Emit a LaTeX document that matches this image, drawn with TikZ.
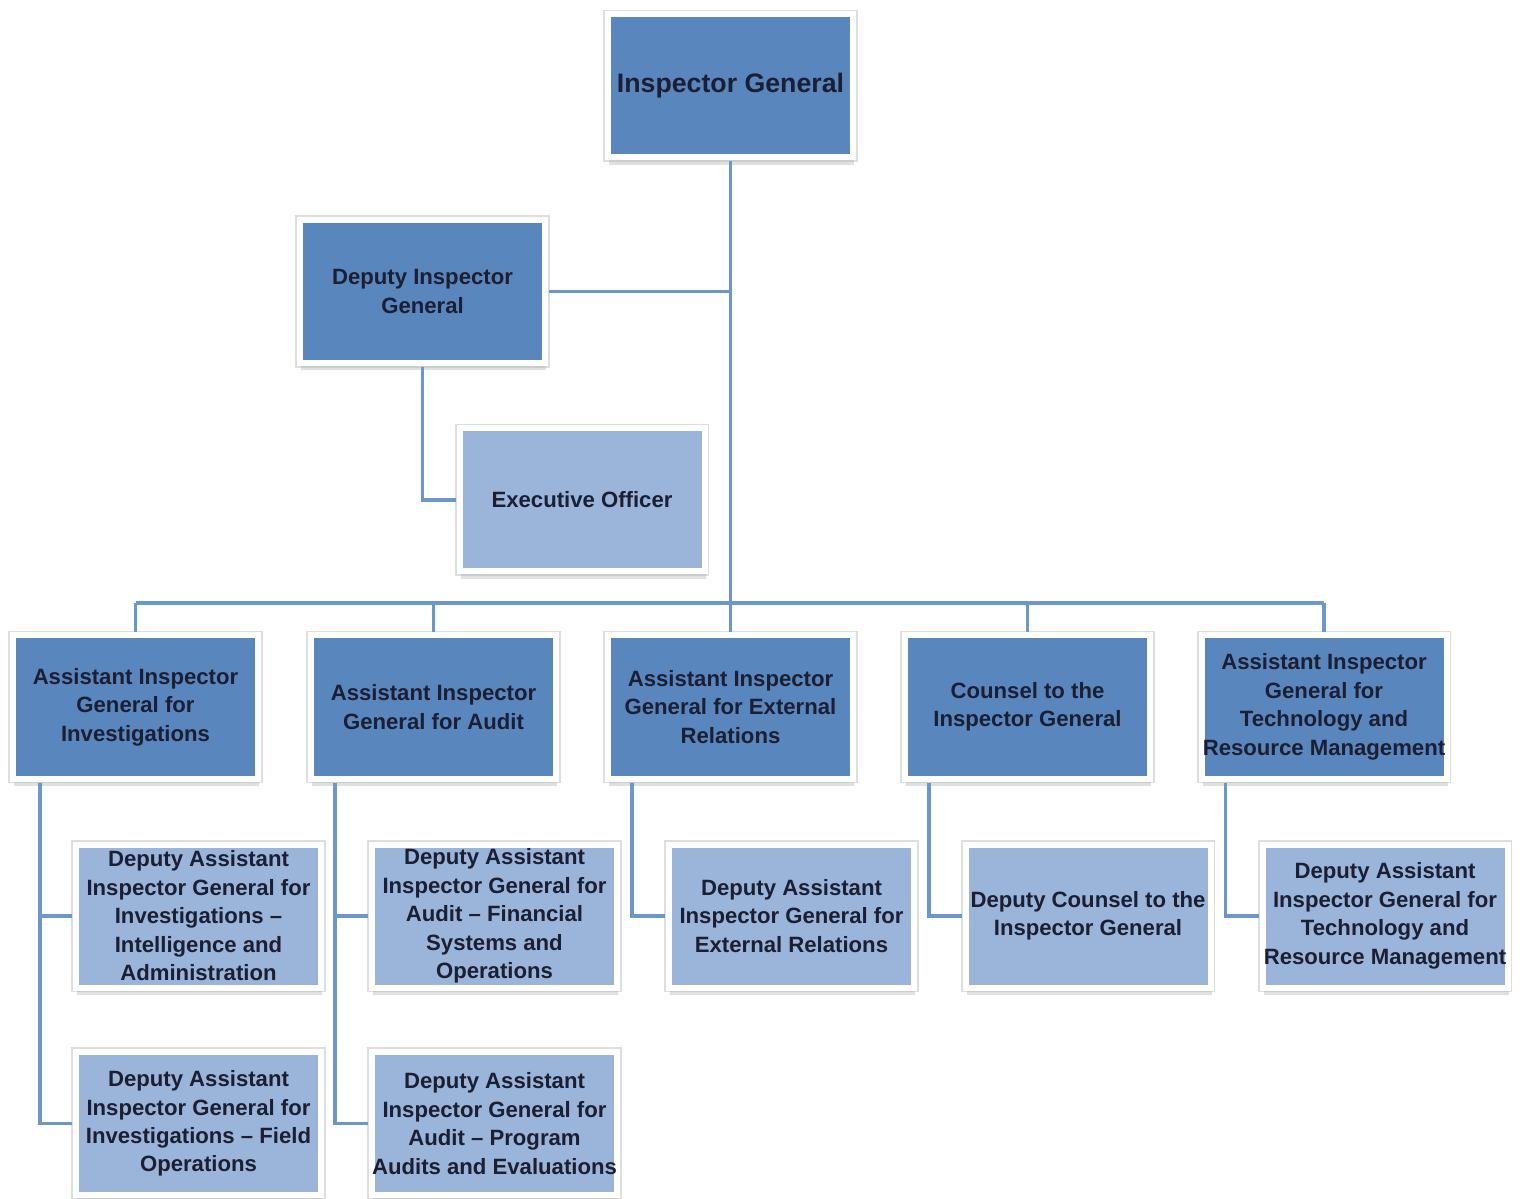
\documentclass[tikz,border=0pt]{standalone}
\usepackage{fontspec}
\setmainfont{Liberation Sans}
\usetikzlibrary{shadows}
\definecolor{bossblue}{HTML}{5A86BE}
\definecolor{staffblue}{HTML}{9BB5DA}
\definecolor{linkblue}{HTML}{6C97CB}
\definecolor{inkblue}{HTML}{1A1F33}
\tikzset{
    post/.style={fill=bossblue, draw=white, line width=0.06cm,
        preaction={draw=black!13, line width=0.06cm+0.9pt},
        minimum width=2.45cm, minimum height=1.43cm, outer sep=0.04cm,
        inner sep=0pt, align=center, text=inkblue, font=\fontsize{6.3}{8.1}\selectfont\bfseries,
        drop shadow={shadow xshift=0.4pt, shadow yshift=-2pt, fill=black!30, opacity=0.4}},
    subpost/.style={post, fill=staffblue},
    link/.style={draw=linkblue, line width=0.035cm}
}
\begin{document}
\begin{tikzpicture}
    \useasboundingbox (0,0) rectangle (15.22,-11.99);

    % top of the chart
    \node[post, font=\fontsize{7.6}{9}\selectfont\bfseries] (ig) at (7.305,-0.86) {Inspector General};
    \node[post] (dig) at (4.225,-2.915) {Deputy Inspector\\General};
    \node[subpost] (eo) at (5.82,-5.0) {Executive Officer};

    % assistant inspectors general
    \foreach \x/\nm/\txt in {1.355/aigI/{Assistant Inspector\\General for\\Investigations},
                              4.335/aigA/{Assistant Inspector\\General for Audit},
                              7.305/aigE/{Assistant Inspector\\General for External\\Relations},
                              10.275/aigC/{Counsel to the\\Inspector General},
                              13.24/aigT/{Assistant Inspector\\General for\\Technology and\\Resource Management}}{
        \node[post] (\nm) at (\x,-7.07) {\txt};
    }

    % deputies
    \node[subpost] (daiI1) at (1.985,-9.16) {Deputy Assistant\\Inspector General for\\Investigations –\\Intelligence and\\Administration};
    \node[subpost] (daiI2) at (1.985,-11.235) {Deputy Assistant\\Inspector General for\\Investigations – Field\\Operations};
    \node[subpost] (daiA1) at (4.945,-9.16) {Deputy Assistant\\Inspector General for\\Audit – Financial\\Systems and\\Operations};
    \node[subpost] (daiA2) at (4.945,-11.235) {Deputy Assistant\\Inspector General for\\Audit – Program\\Audits and Evaluations};
    \node[subpost] (daiE) at (7.915,-9.16) {Deputy Assistant\\Inspector General for\\External Relations};
    \node[subpost] (dcc) at (10.88,-9.16) {Deputy Counsel to the\\Inspector General};
    \node[subpost] (daiT) at (13.85,-9.16) {Deputy Assistant\\Inspector General for\\Technology and\\Resource Management};

    % connectors
    \coordinate (bus) at (0,-6.03);
    \draw[link] (ig.south) -- (ig.south |- bus);
    \draw[link] (dig.east) -- (dig.east -| ig.south);
    \draw[link] (dig.south) -- (dig.south |- eo.west) -- (eo.west);
    \draw[link] (aigI.north |- bus) -- (aigT.north |- bus);
    \foreach \nm in {aigI,aigA,aigE,aigC,aigT}{
        \draw[link] (\nm.north |- bus) -- (\nm.north);
    }

    \coordinate (stemI) at ([xshift=0.31cm]aigI.south west);
    \coordinate (stemA) at ([xshift=0.28cm]aigA.south west);
    \coordinate (stemE) at ([xshift=0.28cm]aigE.south west);
    \coordinate (stemC) at ([xshift=0.28cm]aigC.south west);
    \coordinate (stemT) at ([xshift=0.28cm]aigT.south west);
    \draw[link] (stemI) -- (stemI |- daiI2.west) -- (daiI2.west);
    \draw[link] (stemI |- daiI1.west) -- (daiI1.west);
    \draw[link] (stemA) -- (stemA |- daiA2.west) -- (daiA2.west);
    \draw[link] (stemA |- daiA1.west) -- (daiA1.west);
    \draw[link] (stemE) -- (stemE |- daiE.west) -- (daiE.west);
    \draw[link] (stemC) -- (stemC |- dcc.west) -- (dcc.west);
    \draw[link] (stemT) -- (stemT |- daiT.west) -- (daiT.west);
\end{tikzpicture}
\end{document}
